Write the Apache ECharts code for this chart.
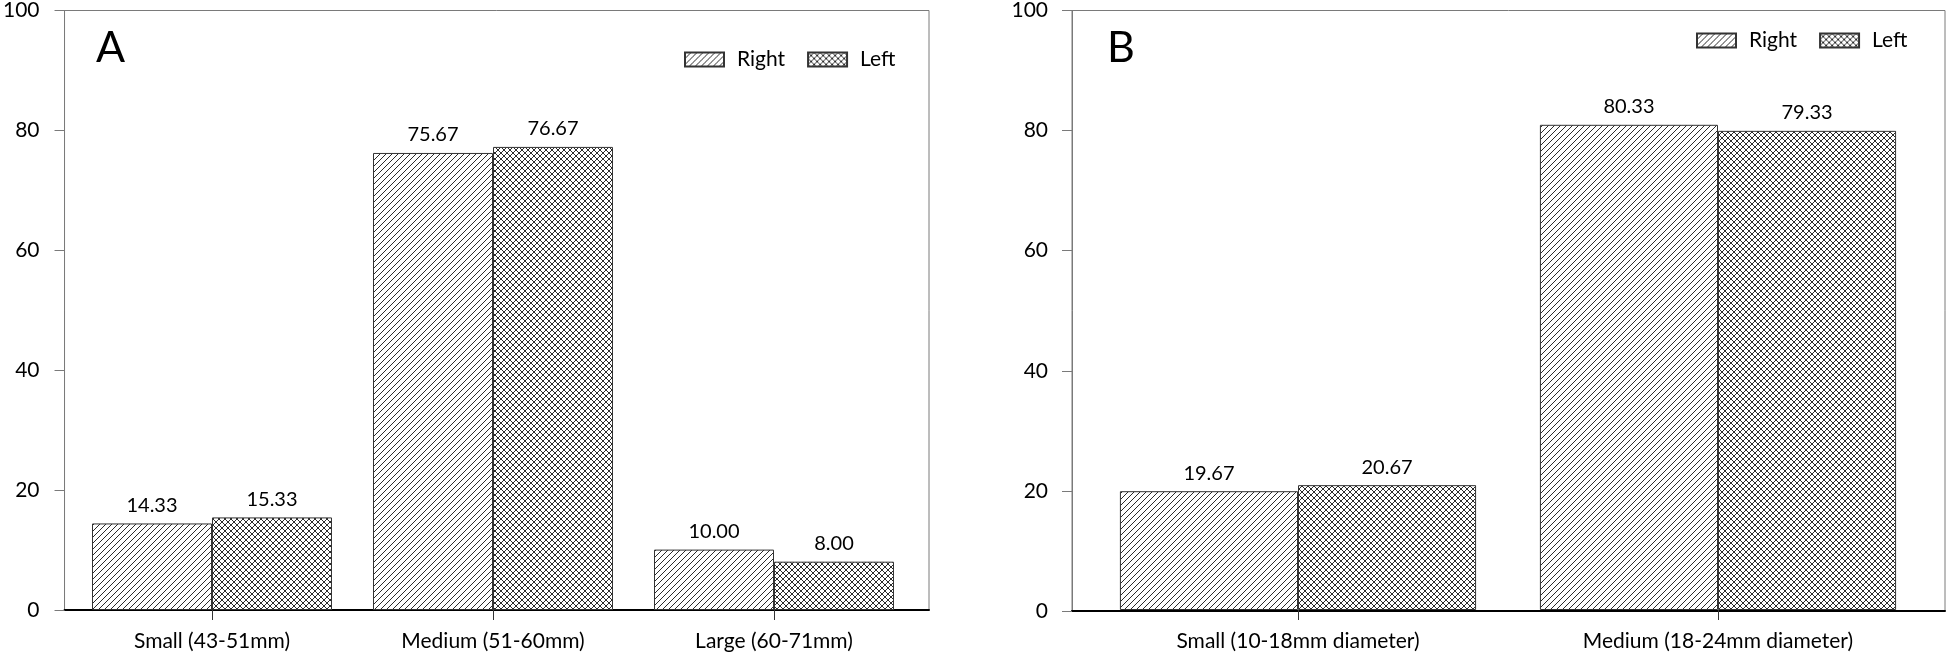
<!DOCTYPE html>
<html>
<head>
<meta charset="utf-8">
<script src="https://cdn.jsdelivr.net/npm/echarts@6/dist/echarts.min.js"></script>
<style>
html,body{margin:0;padding:0;background:#fff;}
#c{width:1946px;height:652px;}
</style>
</head>
<body>
<div id="c"></div>
<script>
// ---- data ----
const catsA = ['Small (43-51mm)', 'Medium (51-60mm)', 'Large (60-71mm)'];
const rightA = [14.33, 75.67, 10.00];
const leftA = [15.33, 76.67, 8.00];
const catsB = ['Small (10-18mm diameter)', 'Medium (18-24mm diameter)'];
const rightB = [19.67, 80.33];
const leftB = [20.67, 79.33];
const seriesNames = ['Right', 'Left'];
const panelLetters = ['A', 'B'];
const yMin = 0, yMax = 100, yStep = 20;

// ---- patterns ----
function makePattern(cross) {
  const s = 6;
  const cv = document.createElement('canvas');
  cv.width = s; cv.height = s;
  const ctx = cv.getContext('2d');
  ctx.fillStyle = '#ffffff';
  ctx.fillRect(0, 0, s, s);
  ctx.strokeStyle = '#2b2b2b';
  ctx.lineWidth = 1;
  ctx.beginPath();
  ctx.moveTo(-1, s + 1); ctx.lineTo(s + 1, -1);
  ctx.moveTo(-1, 1); ctx.lineTo(1, -1);
  ctx.moveTo(s - 1, s + 1); ctx.lineTo(s + 1, s - 1);
  if (cross) {
    ctx.moveTo(-1, -1); ctx.lineTo(s + 1, s + 1);
    ctx.moveTo(-1, s - 1); ctx.lineTo(1, s + 1);
    ctx.moveTo(s - 1, -1); ctx.lineTo(s + 1, 1);
  }
  ctx.stroke();
  return { image: cv, repeat: 'repeat' };
}
const patRight = makePattern(false);
const patLeft = makePattern(true);

const FONT = 'Lato, "Open Sans", sans-serif';
const frameColor = '#7a7a7a';

function frameGrid(left, width, height) {
  return { left: left, top: 6, width: width, height: height, show: true,
           borderColor: frameColor, borderWidth: 1, backgroundColor: 'transparent', containLabel: false };
}
function barGrid(left, width, height) {
  return { left: left, top: 6, width: width, height: height, containLabel: false };
}

const grids = [
  frameGrid(57.5, 871.5, 604),
  barGrid(71.5, 843, 604),
  frameGrid(1072, 873, 605),
  barGrid(1088, 840, 605)
];

function frameX(gi) {
  return { type: 'value', gridIndex: gi, min: 0, max: 1, position: 'bottom',
    axisLine: { show: true, lineStyle: { color: '#000', width: 2 } },
    axisTick: { show: false }, axisLabel: { show: false }, splitLine: { show: false } };
}
function catX(gi, cats) {
  return { type: 'category', gridIndex: gi, data: cats, position: 'bottom',
    axisLine: { show: false },
    axisTick: { show: true, alignWithLabel: true, length: 10, lineStyle: { color: '#333', width: 1 } },
    axisLabel: { show: true, fontSize: 21, color: '#000', fontFamily: FONT, margin: 21, interval: 0 },
    splitLine: { show: false } };
}
function frameY(gi, margin) {
  return { type: 'value', gridIndex: gi, min: yMin, max: yMax, interval: yStep,
    axisLine: { show: true, lineStyle: { color: frameColor, width: 1 } },
    axisTick: { show: true, inside: false, length: 10, lineStyle: { color: frameColor, width: 1 } },
    axisLabel: { show: true, fontSize: 21, color: '#000', fontFamily: FONT, margin: margin },
    splitLine: { show: false } };
}
function hiddenY(gi) {
  return { type: 'value', gridIndex: gi, min: yMin, max: yMax, interval: yStep, show: false, splitLine: { show: false } };
}

function barSeries(name, data, xi, yi, pat, gap) {
  return {
    name: name, type: 'bar', xAxisIndex: xi, yAxisIndex: yi, data: data,
    barGap: '0%', barCategoryGap: gap,
    itemStyle: { color: pat, borderColor: '#333', borderWidth: 1 },
    label: { show: true, position: 'top', distance: 8, fontSize: 20, color: '#000', fontFamily: FONT,
             formatter: p => p.value.toFixed(2) },
    emphasis: { disabled: true },
    animation: false
  };
}

function legendAt(left, top) {
  return { data: seriesNames, left: left, top: top, icon: 'rect', itemWidth: 39, itemHeight: 14, itemGap: 22,
    textStyle: { fontSize: 21, color: '#000', fontFamily: FONT, padding: [0, 0, 0, 8] }, selectedMode: false };
}

const option = {
  backgroundColor: '#fff',
  animation: false,
  title: [
    { text: panelLetters[0], left: 91, top: 22, textStyle: { fontSize: 43, fontWeight: 'normal', color: '#000', fontFamily: FONT } },
    { text: panelLetters[1], left: 1102, top: 22, textStyle: { fontSize: 43, fontWeight: 'normal', color: '#000', fontFamily: FONT } }
  ],
  legend: [ legendAt(679, 44), legendAt(1691, 25) ],
  grid: grids,
  xAxis: [frameX(0), catX(1, catsA), frameX(2), catX(3, catsB)],
  yAxis: [frameY(0, 25), hiddenY(1), frameY(2, 24), hiddenY(3)],
  series: [
    barSeries(seriesNames[0], rightA, 1, 1, patRight, '14.6%'),
    barSeries(seriesNames[1], leftA, 1, 1, patLeft, '14.6%'),
    barSeries(seriesNames[0], rightB, 3, 3, patRight, '15.2%'),
    barSeries(seriesNames[1], leftB, 3, 3, patLeft, '15.2%')
  ]
};

const chart = echarts.init(document.getElementById('c'), null, { renderer: 'canvas' });
chart.setOption(option);
</script>
</body>
</html>
